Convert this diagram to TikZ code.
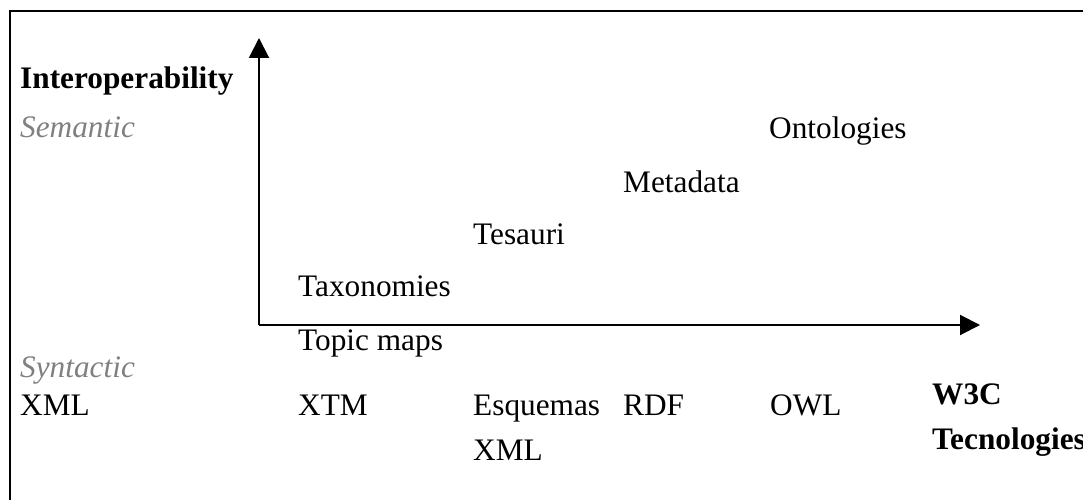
\documentclass[tikz,border=0pt]{standalone}
\usepackage{fontspec}
\setmainfont{Liberation Serif}
\usetikzlibrary{arrows.meta}
\definecolor{lbl}{HTML}{808080}
\begin{document}
\begin{tikzpicture}[x=1pt,y=-1pt,
  txt/.style={anchor=base west,inner sep=0pt,font=\fontsize{31.3}{38}\selectfont},
  bld/.style={txt,font=\fontsize{31.3}{38}\selectfont\bfseries},
  lvl/.style={txt,font=\fontsize{31.3}{38}\selectfont\itshape,text=lbl},
  axis/.style={line width=2pt,-{Triangle[length=20pt,width=20pt]}},
  frame/.style={line width=2.2pt}]
\useasboundingbox (0,0) rectangle (1083,500);
% frame
\coordinate (fl) at (10,500);
\coordinate (fc) at (10,11);
\coordinate (fr) at (1083,11);
\draw[frame] (fl) -- (fc) -- (fr);
% axes
\coordinate (o) at (259,325);
\coordinate (ytip) at (259,38);
\coordinate (xtip) at (980,325);
\draw[axis] (o) -- (ytip);
\draw[axis] (o) -- (xtip);
% labels
\node[bld] (inter) at (20,89) {Interoperability};
\node[lvl] (sem) at (20,137) {Semantic};
\node[lvl] (syn) at (20,377) {Syntactic};
\node[txt] (onto) at (769,139) {Ontologies};
\node[txt] (meta) at (623,192) {Metadata};
\node[txt] (tes) at (473,244) {Tesauri};
\node[txt] (tax) at (298,296) {Taxonomies};
\node[txt] (topic) at (298,350) {Topic maps};
\node[txt] (xml) at (20,415) {XML};
\node[txt] (xtm) at (298,415) {XTM};
\node[txt] (esq) at (473,415) {Esquemas};
\node[txt] (esq2) at (473,460) {XML};
\node[txt] (rdf) at (623,415) {RDF};
\node[txt] (owl) at (770,415) {OWL};
\node[bld] (w3c) at (932,404) {W3C};
\node[bld] (tec) at (932,449) {Tecnologies};
\end{tikzpicture}
\end{document}
